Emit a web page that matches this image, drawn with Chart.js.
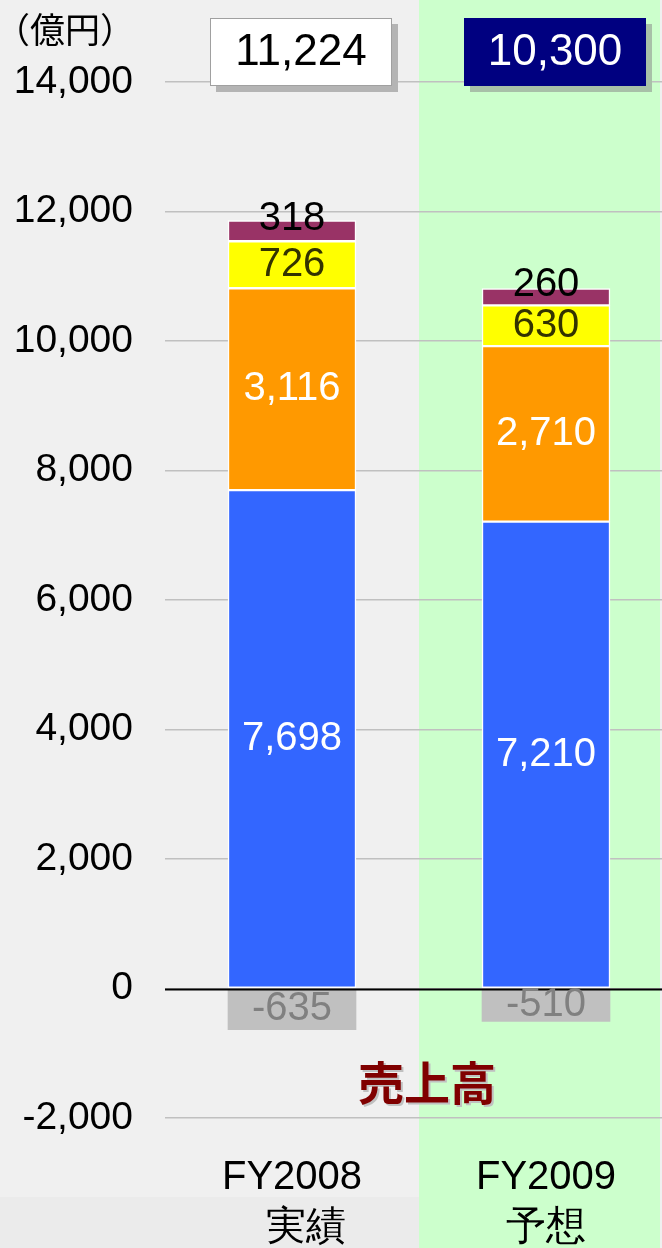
<!DOCTYPE html>
<html>
<head>
<meta charset="utf-8">
<script src="https://cdn.jsdelivr.net/npm/chart.js@4/dist/chart.umd.min.js"></script>
<style>
  html, body { margin: 0; padding: 0; background: #f0f0f0; overflow: hidden; }
  #wrap { width: 673px; height: 1248px; position: relative; }
</style>
</head>
<body>
<div id="wrap"><canvas id="salesChart"></canvas></div>
<script>
// data
const categories = [['FY2008', '\u2002\u2009実績'], ['FY2009', '予想']];
const blueValues = [7698, 7210];
const orangeValues = [3116, 2710];
const yellowValues = [726, 630];
const purpleValues = [318, 260];
const elimValues = [-635, -510];
const totals = [11224, 10300];
const yMin = -2000, yMax = 14000, yStep = 2000;
const unitLabel = '（億円）';
const panelTitle = '売上高';

const FONT = '"Liberation Sans", Arial, sans-serif';
const JFONT = '"Noto Sans CJK JP", "Liberation Sans", sans-serif';
const fmt = v => v.toLocaleString('en-US');

// background: grey panel for actual, green panel for forecast
const backgroundPlugin = {
  id: 'panels',
  beforeDraw(chart) {
    const ctx = chart.ctx;
    const meta = chart.getDatasetMeta(0);
    const mid = (meta.data[0].x + meta.data[1].x) / 2;
    ctx.save();
    ctx.fillStyle = '#f0f0f0';
    ctx.fillRect(0, 0, chart.width, chart.height);
    ctx.fillStyle = '#ebebeb';
    ctx.fillRect(0, 1197, mid, chart.height - 1197);
    ctx.fillStyle = '#ccffcc';
    ctx.fillRect(mid, 0, 660 - mid, chart.height);
    ctx.restore();
  }
};

// segment values, zero line, totals boxes and captions
const labelPlugin = {
  id: 'labels',
  afterDatasetsDraw(chart) {
    const ctx = chart.ctx;
    const y = chart.scales.y;
    const area = chart.chartArea;
    ctx.save();

    // zero line on top of bars
    const zy = Math.round(y.getPixelForValue(0)) + 0.5;
    ctx.strokeStyle = '#000';
    ctx.lineWidth = 2;
    ctx.beginPath();
    ctx.moveTo(area.left, zy);
    ctx.lineTo(chart.width, zy);
    ctx.stroke();

    ctx.textAlign = 'center';
    ctx.textBaseline = 'middle';
    ctx.font = '40px ' + FONT;
    chart.data.datasets.forEach((ds, i) => {
      const meta = chart.getDatasetMeta(i);
      meta.data.forEach((bar, j) => {
        ctx.fillStyle = ds.labelColor;
        ctx.fillText(fmt(ds.data[j]), bar.x, (bar.y + bar.base) / 2 + (ds.labelShift || 0));
      });
    });

    // totals boxes
    const meta0 = chart.getDatasetMeta(0);
    const boxStyles = [
      { fill: '#ffffff', text: '#000000', shadow: '#b4b4b4', edge: '#a0a0a0' },
      { fill: '#000080', text: '#ffffff', shadow: '#a8c0a8', edge: '#000080' }
    ];
    totals.forEach((t, j) => {
      const cx = meta0.data[j].x + 9;
      const w = 182, h = 68, top = 18;
      const s = boxStyles[j];
      ctx.fillStyle = s.shadow;
      ctx.fillRect(cx - w / 2 + 6, top + 6, w, h);
      ctx.fillStyle = s.fill;
      ctx.fillRect(cx - w / 2, top, w, h);
      ctx.strokeStyle = s.edge;
      ctx.lineWidth = 1;
      ctx.strokeRect(cx - w / 2 + 0.5, top + 0.5, w - 1, h - 1);
      ctx.fillStyle = s.text;
      ctx.font = '44px ' + FONT;
      ctx.fillText(fmt(t), cx, top + h / 2 + 1);
    });

    // unit label
    ctx.textAlign = 'left';
    ctx.fillStyle = '#000';
    ctx.font = '35px ' + JFONT;
    ctx.fillText(unitLabel, -5, 30);

    // panel title with shadow
    const mid = (meta0.data[0].x + meta0.data[1].x) / 2;
    ctx.textAlign = 'center';
    ctx.font = 'bold 46px ' + JFONT;
    ctx.fillStyle = '#c0c0c0';
    ctx.fillText(panelTitle, mid + 10, 1085);
    ctx.fillStyle = '#800000';
    ctx.fillText(panelTitle, mid + 8, 1083);
    ctx.restore();
  }
};

const barBase = {
  barThickness: 128,
  borderColor: '#ffffff',
  borderWidth: 1.5,
  borderSkipped: false,
  stack: 'sales'
};

new Chart(document.getElementById('salesChart'), {
  type: 'bar',
  data: {
    labels: categories,
    datasets: [
      { ...barBase, label: 'blue', data: blueValues, backgroundColor: '#3366ff', labelColor: '#ffffff' },
      { ...barBase, label: 'orange', data: orangeValues, backgroundColor: '#ff9900', labelColor: '#ffffff' },
      { ...barBase, label: 'yellow', data: yellowValues, backgroundColor: '#ffff00', labelColor: '#333300' },
      { ...barBase, label: 'purple', data: purpleValues, backgroundColor: '#993366', labelColor: '#000000', labelShift: -12 },
      { ...barBase, label: 'elim', data: elimValues, backgroundColor: '#c0c0c0', borderWidth: 0, labelColor: '#808080' }
    ]
  },
  options: {
    responsive: true,
    maintainAspectRatio: false,
    animation: false,
    devicePixelRatio: 1,
    layout: { padding: { top: 82, right: 0, left: 0, bottom: 0 } },
    plugins: {
      legend: { display: false },
      tooltip: { enabled: false }
    },
    scales: {
      x: {
        stacked: true,
        grid: { display: false, drawTicks: false },
        border: { display: false },
        ticks: {
          color: '#000',
          padding: 35,
          font: { size: 40, family: FONT, lineHeight: 1.25 }
        },
        afterFit: s => { s.height = 130; }
      },
      y: {
        stacked: true,
        min: yMin,
        max: yMax,
        border: { display: false },
        grid: {
          drawTicks: false,
          color: '#c0c0c0',
          lineWidth: 1.5
        },
        ticks: {
          stepSize: yStep,
          color: '#000',
          padding: 32,
          font: { size: 39, family: FONT },
          callback: v => fmt(v)
        },
        afterFit: s => { s.width = 165; }
      }
    }
  },
  plugins: [backgroundPlugin, labelPlugin]
});
</script>
</body>
</html>
